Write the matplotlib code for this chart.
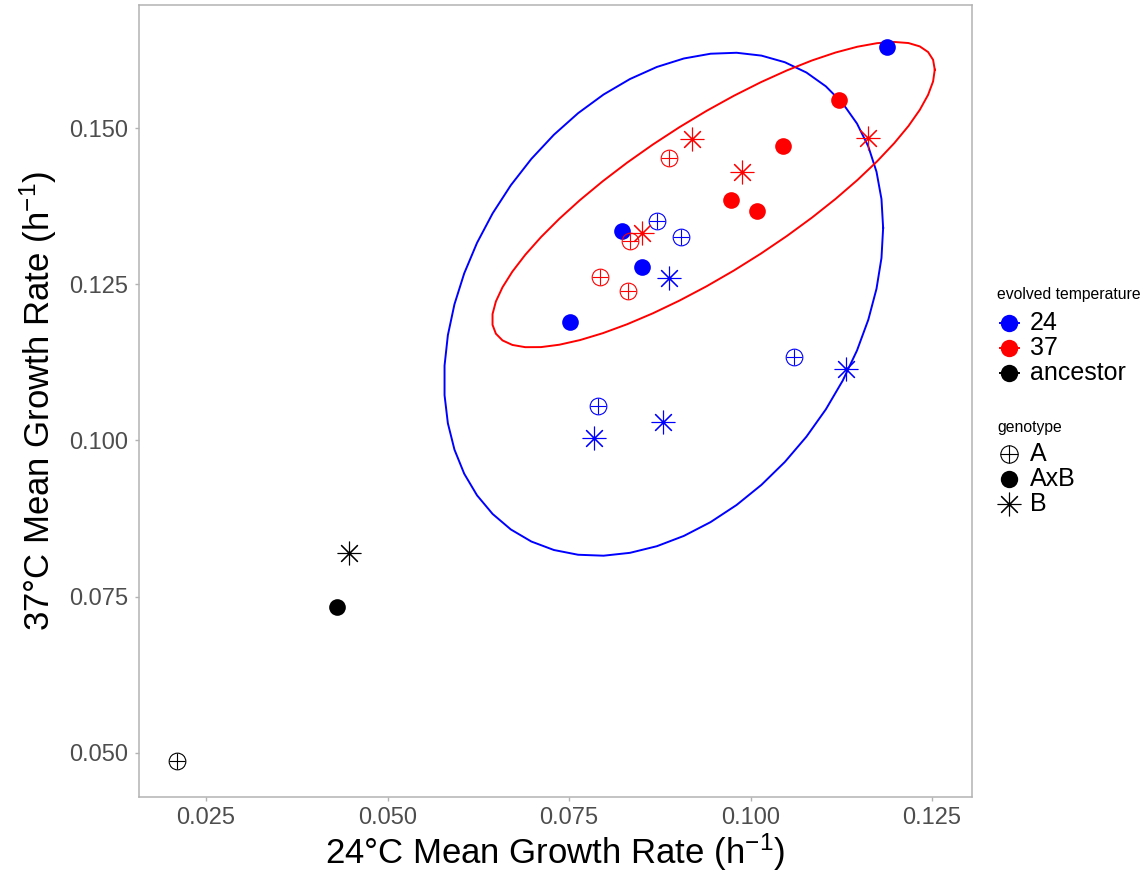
import numpy as np
import matplotlib
matplotlib.use("Agg")
import matplotlib.pyplot as plt
from matplotlib.lines import Line2D

plt.rcParams['font.family'] = ['Liberation Sans', 'DejaVu Sans']
plt.rcParams['mathtext.default'] = 'regular'

# ---- data ----
x_24_AxB = [0.11876, 0.08234, 0.08506, 0.07514]
y_24_AxB = [0.16307, 0.13360, 0.12779, 0.11903]
x_24_A = [0.08708, 0.09047, 0.10603, 0.07904]
y_24_A = [0.13515, 0.13254, 0.11342, 0.10553]
x_24_B = [0.08873, 0.11311, 0.08799, 0.07844]
y_24_B = [0.12598, 0.11145, 0.10291, 0.10035]

x_37_AxB = [0.11223, 0.10452, 0.09727, 0.10094]
y_37_AxB = [0.15453, 0.14721, 0.13847, 0.13676]
x_37_A = [0.08878, 0.08340, 0.07927, 0.08308]
y_37_A = [0.14529, 0.13195, 0.12623, 0.12399]
x_37_B = [0.11614, 0.09194, 0.09887, 0.08510]
y_37_B = [0.14849, 0.14824, 0.14295, 0.13328]

x_anc = [0.02105, 0.04309, 0.04474]
y_anc = [0.04872, 0.07338, 0.08194]
g_anc = ['A', 'AxB', 'B']

x_ticks = [0.025, 0.050, 0.075, 0.100, 0.125]
y_ticks = [0.050, 0.075, 0.100, 0.125, 0.150]

temp_levels = ['24', '37', 'ancestor']
temp_colors = {'24': '#0000FF', '37': '#FF0000', 'ancestor': '#000000'}
geno_levels = ['A', 'AxB', 'B']


def cov_trob(X, nu=5, maxit=25, tol=0.01):
    n, p = X.shape
    loc = X.mean(axis=0)
    w = np.ones(n)
    Xc = X - loc
    for _ in range(maxit):
        w0 = w
        Xc = X - loc
        U, d, Vt = np.linalg.svd(np.sqrt(w / w.sum())[:, None] * Xc, full_matrices=False)
        wX = Xc @ Vt.T @ np.diag(1.0 / d)
        Q = (wX ** 2).sum(axis=1)
        w = (nu + p) / (nu + Q)
        loc = (w[:, None] * X).sum(axis=0) / w.sum()
        if np.all(np.abs(w - w0) < tol):
            break
    sX = np.sqrt(w)[:, None] * Xc
    cov = sX.T @ sX / n
    return cov, loc


def ellipse_pts(xs, ys, level=0.95, segments=51):
    X = np.column_stack([xs, ys])
    cov, center = cov_trob(X)
    dfn, dfd = 2, X.shape[0] - 1
    fq = dfd / 2.0 * ((1 - level) ** (-2.0 / dfd) - 1)
    radius = np.sqrt(dfn * fq)
    R = np.linalg.cholesky(cov).T
    ang = np.arange(segments + 1) * 2 * np.pi / segments
    circ = np.column_stack([np.cos(ang), np.sin(ang)])
    return center + radius * circ @ R


MEW = 0.8


def draw(ax, xs, ys, color, geno, **kw):
    if geno == 'AxB':
        ax.plot(xs, ys, ls='none', marker='o', ms=12, mfc=color, mec=color, mew=0, **kw)
    elif geno == 'A':
        ax.plot(xs, ys, ls='none', marker='o', ms=12, mfc='none', mec=color, mew=MEW, **kw)
        ax.plot(xs, ys, ls='none', marker='+', ms=12, mec=color, mew=MEW, **kw)
    else:
        ax.plot(xs, ys, ls='none', marker=(8, 2, 0), ms=17, mec=color, mew=MEW, **kw)


fig = plt.figure(figsize=(11.42, 8.73), dpi=100)
ax = fig.add_axes([139 / 1142, 1 - 797 / 873, (972 - 139) / 1142, (797 - 5) / 873])

# ellipses
e24 = ellipse_pts(x_24_AxB + x_24_A + x_24_B, y_24_AxB + y_24_A + y_24_B)
e37 = ellipse_pts(x_37_AxB + x_37_A + x_37_B, y_37_AxB + y_37_A + y_37_B)
ax.plot(e24[:, 0], e24[:, 1], color=temp_colors['24'], lw=1.4)
ax.plot(e37[:, 0], e37[:, 1], color=temp_colors['37'], lw=1.4)

draw(ax, x_24_A, y_24_A, temp_colors['24'], 'A')
draw(ax, x_24_AxB, y_24_AxB, temp_colors['24'], 'AxB')
draw(ax, x_24_B, y_24_B, temp_colors['24'], 'B')
draw(ax, x_37_A, y_37_A, temp_colors['37'], 'A')
draw(ax, x_37_AxB, y_37_AxB, temp_colors['37'], 'AxB')
draw(ax, x_37_B, y_37_B, temp_colors['37'], 'B')
for xv, yv, g in zip(x_anc, y_anc, g_anc):
    draw(ax, [xv], [yv], temp_colors['ancestor'], g)

ax.set_xlim(0.01577, 0.13051)
ax.set_ylim(0.0429, 0.16975)
ax.set_xticks(x_ticks)
ax.set_xticklabels([f"{v:.3f}" for v in x_ticks])
ax.set_yticks(y_ticks)
ax.set_yticklabels([f"{v:.3f}" for v in y_ticks])
ax.tick_params(axis='both', colors='#B3B3B3', labelcolor='#4D4D4D', labelsize=17,
               length=3, width=1, pad=4.5)
for s in ax.spines.values():
    s.set_color('#B3B3B3')
    s.set_linewidth(1.1)

fig.text(555 / 1142, 1 - 852 / 873, '24°C Mean Growth Rate (h$^{-1}$)', ha='center', va='center',
         fontsize=25)
fig.text(38 / 1142, 1 - 401 / 873, '37°C Mean Growth Rate (h$^{-1}$)', ha='center', va='center',
         fontsize=25, rotation=90)

# legend (manual)
def fx(px):
    return px / 1142


def fy(py):
    return 1 - py / 873


fig.text(fx(997), fy(295), 'evolved temperature', fontsize=11.3, ha='left', va='center')
for lev, py in zip(temp_levels, [323, 348, 373]):
    c = temp_colors[lev]
    fig.add_artist(Line2D([fx(1009)], [fy(py)], transform=fig.transFigure, ls='none', marker='o',
                          ms=12.5, mfc=c, mec=c, mew=0))
    fig.add_artist(Line2D([fx(1000), fx(1019)], [fy(py), fy(py)], transform=fig.transFigure,
                          color=c, lw=1.4))
    fig.text(fx(1030), fy(py), lev, fontsize=18, ha='left', va='center')

fig.text(fx(997), fy(427), 'genotype', fontsize=11.3, ha='left', va='center')
for g, py in zip(geno_levels, [454, 479, 504]):
    kw = dict(transform=fig.transFigure, ls='none')
    if g == 'A':
        fig.add_artist(Line2D([fx(1009)], [fy(py)], marker='o', ms=12.5, mfc='none', mec='k', mew=MEW, **kw))
        fig.add_artist(Line2D([fx(1009)], [fy(py)], marker='+', ms=12.5, mec='k', mew=MEW, **kw))
    elif g == 'AxB':
        fig.add_artist(Line2D([fx(1009)], [fy(py)], marker='o', ms=12.5, mfc='k', mec='k', mew=0, **kw))
    else:
        fig.add_artist(Line2D([fx(1009)], [fy(py)], marker=(8, 2, 0), ms=17, mec='k', mew=MEW, **kw))
    fig.text(fx(1030), fy(py), g, fontsize=18, ha='left', va='center')

fig.savefig('out.png', dpi=100)
